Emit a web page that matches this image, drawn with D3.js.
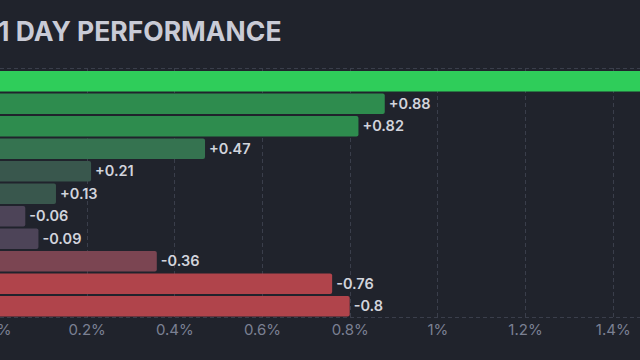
<!DOCTYPE html>
<html><head><meta charset="utf-8">
<script src="https://cdn.jsdelivr.net/npm/d3@7"></script>
<style>
html,body{margin:0;padding:0;background:#20232c;overflow:hidden}
svg{display:block}
</style></head>
<body>
<svg id="c" width="640" height="360"></svg>
<script>
const categories = ["A","B","C","D","E","F","G","H","I","J","K"];
const values = [1.52, 0.88, 0.82, 0.47, 0.21, 0.13, -0.06, -0.09, -0.36, -0.76, -0.8];
const labels = ["+1.52","+0.88","+0.82","+0.47","+0.21","+0.13","-0.06","-0.09","-0.36","-0.76","-0.8"];
const colors = ["#2fcd5a","#2e8c4e","#2e8c4e","#357350","#39574d","#39574d","#4d4458","#4d4458","#7b4552","#b0444b","#b0444b"];
const ticks = [0, 0.2, 0.4, 0.6, 0.8, 1.0, 1.2, 1.4];
const tickLabels = ["0%","0.2%","0.4%","0.6%","0.8%","1%","1.2%","1.4%"];

const svg = d3.select("#c");
const x = d3.scaleLinear().domain([0, 1.4]).range([-1, 612.7]);
const y = d3.scaleBand().domain(categories).range([70, 317.5]).paddingInner(0.08).paddingOuter(0.04);

svg.append("text").attr("x",-2).attr("y",40.5)
  .attr("font-family","Inter, Roboto, sans-serif").attr("font-weight",700).attr("font-size",26.5)
  .attr("fill","#c9cbd6").text("1 DAY PERFORMANCE");

const g = svg.append("g");
[68.5, 317.5].forEach(yy => {
  g.append("line").attr("x1",0).attr("x2",640).attr("y1",yy).attr("y2",yy)
    .attr("stroke","#3a3e4b").attr("stroke-width",1).attr("stroke-dasharray","4,3");
});
g.selectAll("line.grid").data(ticks.slice(1)).join("line").attr("class","grid")
  .attr("x1",d=>Math.round(x(d))+0.5).attr("x2",d=>Math.round(x(d))+0.5)
  .attr("y1",68).attr("y2",318)
  .attr("stroke","#3a3e4b").attr("stroke-width",1).attr("stroke-dasharray","4,3");

g.selectAll("rect.bar").data(values).join("rect").attr("class","bar")
  .attr("x", x(0) - 4)
  .attr("y",(d,i)=>y(categories[i]))
  .attr("width",d=>x(Math.abs(d)) - x(0) + 4)
  .attr("height",y.bandwidth())
  .attr("rx",2).attr("ry",2)
  .attr("fill",(d,i)=>colors[i]);

g.selectAll("text.val").data(values).join("text").attr("class","val")
  .attr("x",d=>x(Math.abs(d))+4)
  .attr("y",(d,i)=>y(categories[i])+y.bandwidth()/2)
  .attr("dy","0.35em")
  .attr("font-family","Inter, Roboto, sans-serif").attr("font-weight",600).attr("font-size",14.5)
  .attr("fill","#d2d4dc")
  .text((d,i)=>labels[i]);

const axis = d3.axisBottom(x).tickValues(ticks).tickFormat((d,i)=>tickLabels[i]).tickSize(0).tickPadding(0);
const ag = svg.append("g").attr("transform","translate(0,324)").call(axis);
ag.select(".domain").remove();
ag.selectAll("text").attr("font-family","Inter, Roboto, sans-serif").attr("font-size",15)
  .attr("fill","#7b8093").attr("dy","0.71em");
</script>
</body></html>
